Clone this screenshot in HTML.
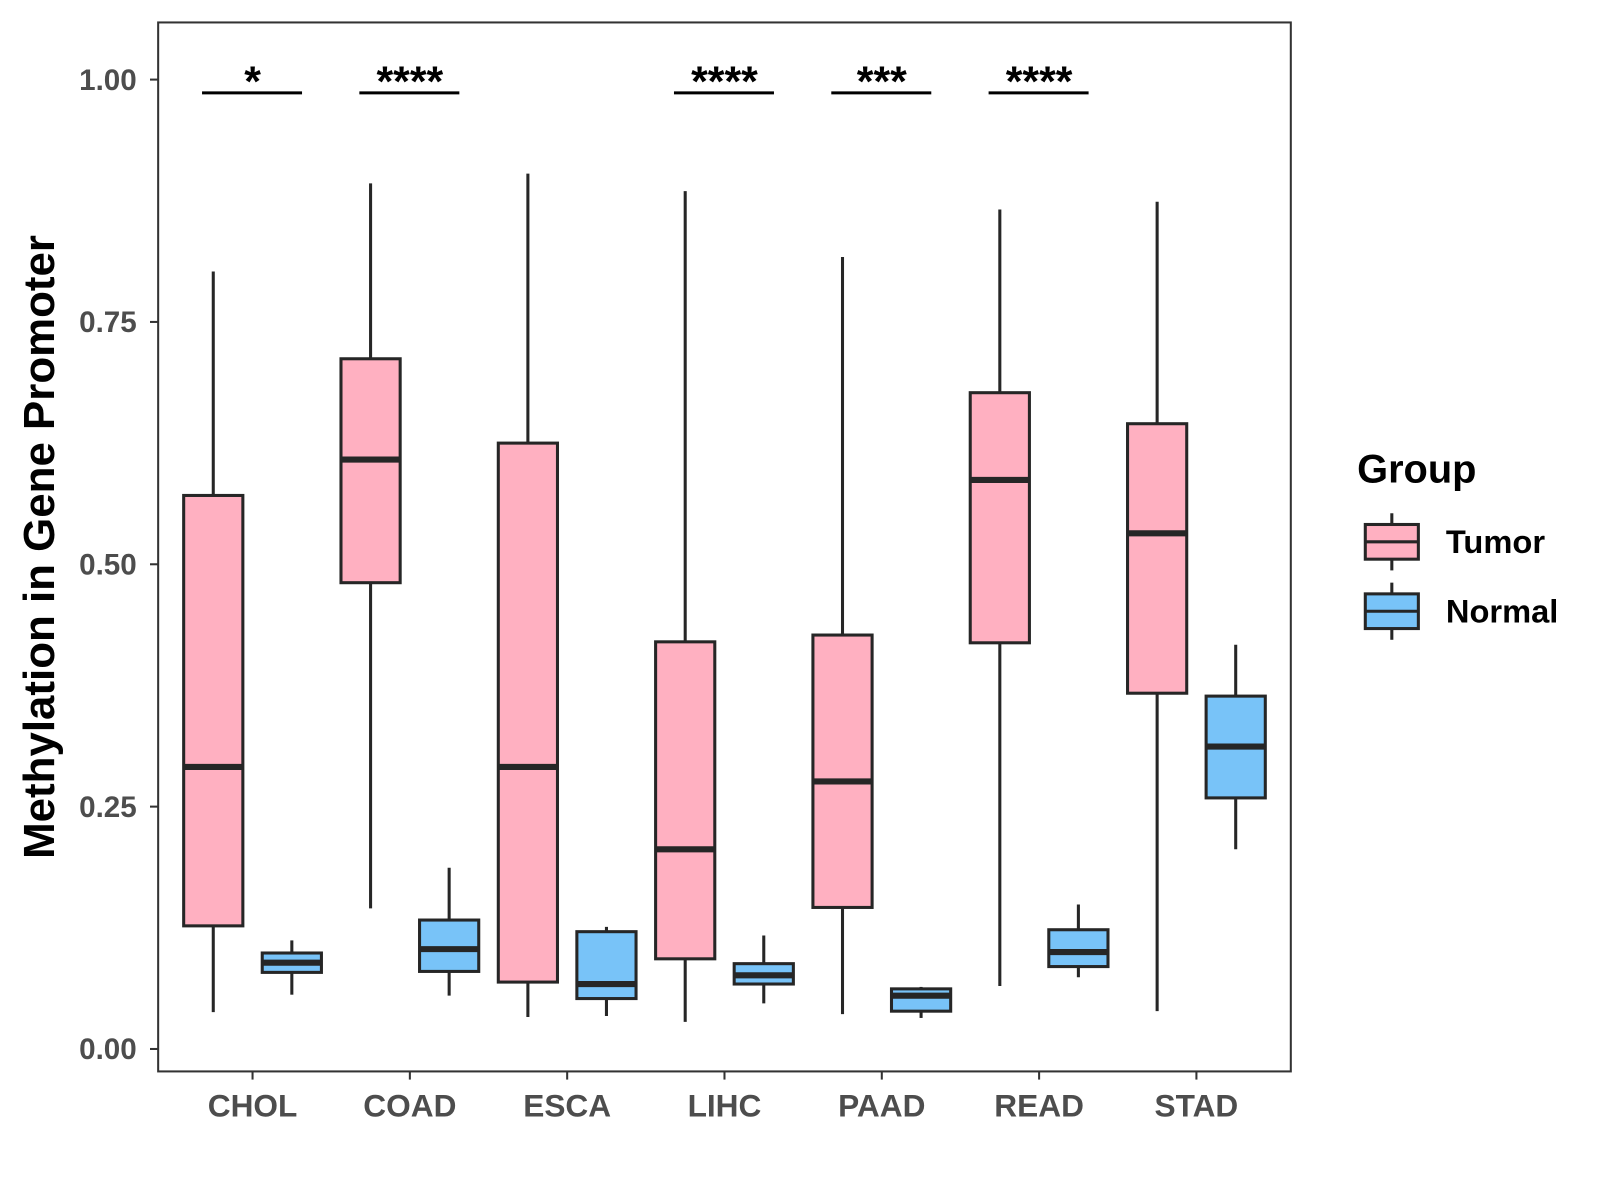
<!DOCTYPE html>
<html><head><meta charset="utf-8"><style>
html,body{margin:0;padding:0;background:#fff;}
svg{display:block;font-family:"Liberation Sans",Arial,sans-serif;}
</style></head><body>
<svg id="chart" width="1600" height="1200" viewBox="0 0 1600 1200">
<rect x="0" y="0" width="1600" height="1200" fill="#fff"/>
<g id="plot" transform="scale(1.0204)"></g>
</svg>
<script>
const categories = ["CHOL","COAD","ESCA","LIHC","PAAD","READ","STAD"];
// [low whisker, Q1, median, Q3, high whisker]
const tumorStats = [
 [0.038,0.127,0.291,0.571,0.802],
 [0.145,0.481,0.608,0.712,0.893],
 [0.033,0.069,0.291,0.625,0.903],
 [0.028,0.093,0.206,0.420,0.885],
 [0.036,0.146,0.276,0.427,0.817],
 [0.065,0.419,0.587,0.677,0.866],
 [0.039,0.367,0.532,0.645,0.874]
];
const normalStats = [
 [0.056,0.079,0.089,0.099,0.112],
 [0.055,0.080,0.103,0.133,0.187],
 [0.034,0.052,0.067,0.121,0.126],
 [0.047,0.067,0.076,0.088,0.117],
 [0.032,0.039,0.055,0.062,0.064],
 [0.074,0.085,0.100,0.123,0.149],
 [0.206,0.259,0.312,0.364,0.417]
];
const sigLabels = ["*","****","","****","***","****",""];
const yTicks = [0,0.25,0.5,0.75,1.0];
const yTickLabels = ["0.00","0.25","0.50","0.75","1.00"];
const groups = ["Tumor","Normal"];
const groupColors = ["#FFB0C1","#78C3F8"];

const NS="http://www.w3.org/2000/svg";
const g=document.getElementById('plot');
const P={l:155,r:1265,t:22,b:1050};
const y0px=1028, y1px=78;
const yScale=v=>y0px-(y0px-y1px)*v;
const step=(P.r-P.l)/(categories.length-1+1.2);
const xScale=i=>P.l+0.6*step+i*step;
function el(tag,attrs,parent){const e=document.createElementNS(NS,tag);for(const k in attrs)e.setAttribute(k,attrs[k]);(parent||g).appendChild(e);return e;}

const frame=el('rect',{x:P.l,y:P.t,width:P.r-P.l,height:P.b-P.t,fill:'none',stroke:'#333','stroke-width':2});



yTicks.forEach((v,i)=>{
 const yy=yScale(v);
 const t=el('line',{x1:P.l-8,x2:P.l,y1:yy,y2:yy,stroke:'#333','stroke-width':2});
 
 
 const lb=el('text',{x:P.l-21,y:yy+10,'text-anchor':'end','font-size':29,'font-weight':'bold',fill:'#4d4d4d'});
 lb.textContent=yTickLabels[i];
 
 
});

const boxW=58, off=38.5;
function drawBox(s,cx,color,name){
 const grp=el('g',{});
 
 
 el('line',{x1:cx,x2:cx,y1:yScale(s[4]),y2:yScale(s[0]),stroke:'#262626','stroke-width':3},grp);
 el('rect',{x:cx-boxW/2,y:yScale(s[3]),width:boxW,height:yScale(s[1])-yScale(s[3]),fill:color,stroke:'#262626','stroke-width':3},grp);
 el('line',{x1:cx-boxW/2,x2:cx+boxW/2,y1:yScale(s[2]),y2:yScale(s[2]),stroke:'#262626','stroke-width':6},grp);
}
categories.forEach((c,i)=>{
 const cx=xScale(i);
 drawBox(tumorStats[i],cx-off,groupColors[0],'box-tumor-'+c.toLowerCase());
 drawBox(normalStats[i],cx+off,groupColors[1],'box-normal-'+c.toLowerCase());
 const t=el('line',{x1:cx,x2:cx,y1:P.b,y2:P.b+8,stroke:'#333','stroke-width':2});
 
 
 const lb=el('text',{x:cx,y:P.b+44,'text-anchor':'middle','font-size':31,'font-weight':'bold',fill:'#4d4d4d'});
 lb.textContent=c;
 
 
 if(sigLabels[i]){
  const sl=el('line',{x1:cx-off-11,x2:cx+off+10,y1:91,y2:91,stroke:'#000','stroke-width':3});
  
  
  const st=el('text',{x:cx,y:94,'text-anchor':'middle','font-size':42,'font-weight':'bold',fill:'#000'});
  st.textContent=sigLabels[i];
  
  
 }
});

const yt=el('text',{x:0,y:0,transform:'translate(53,536) rotate(-90)','text-anchor':'middle','font-size':43,'font-weight':'bold',fill:'#000'});
yt.textContent='Methylation in Gene Promoter';



const lt=el('text',{x:1330,y:473,'font-size':39,'font-weight':'bold',fill:'#000'});
lt.textContent='Group';


groups.forEach((gname,i)=>{
 const yc=531+i*68;
 const lg=el('g',{});
 
 
 el('line',{x1:1364,x2:1364,y1:yc-28,y2:yc+28,stroke:'#262626','stroke-width':3},lg);
 el('rect',{x:1338,y:yc-17,width:52,height:34,fill:groupColors[i],stroke:'#262626','stroke-width':3},lg);
 el('line',{x1:1338,x2:1390,y1:yc,y2:yc,stroke:'#262626','stroke-width':3},lg);
 const tx=el('text',{x:1417,y:yc+11,'font-size':32,'font-weight':'bold',fill:'#000'},lg);
 tx.textContent=gname;
});
</script>
</body></html>
